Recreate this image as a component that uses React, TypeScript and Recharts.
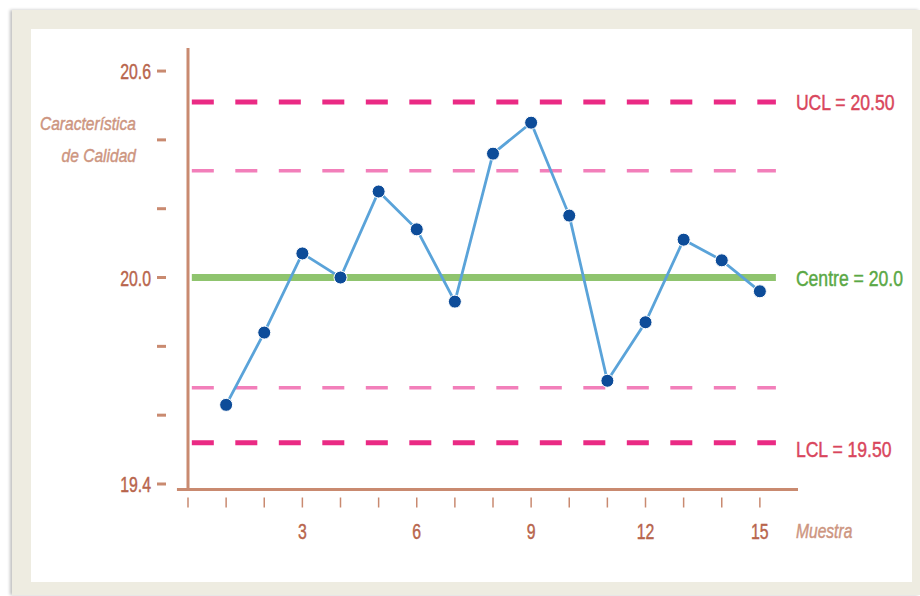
import { LineChart, Line, XAxis, YAxis, ReferenceLine } from "recharts";

// --- data ---
const SAMPLES = [1, 2, 3, 4, 5, 6, 7, 8, 9, 10, 11, 12, 13, 14, 15];
const VALUES = [19.63, 19.84, 20.07, 20.0, 20.25, 20.14, 19.93, 20.36, 20.45, 20.18, 19.7, 19.87, 20.11, 20.05, 19.96];

const Y_TICKS = [19.4, 19.6, 19.8, 20.0, 20.2, 20.4, 20.6];
const Y_TICK_LABELS: Record<string, string> = { "19.4": "19.4", "20": "20.0", "20.6": "20.6" };
const X_TICKS = [0, 1, 2, 3, 4, 5, 6, 7, 8, 9, 10, 11, 12, 13, 14, 15];
const X_TICK_LABELS = [3, 6, 9, 12, 15];

const UCL = 20.51;
const UPPER_WARN = 20.31;
const CENTRE = 20.0;
const LOWER_WARN = 19.68;
const LCL = 19.52;

const Y_DOMAIN: [number, number] = [19.384, 20.667];
const X_DOMAIN: [number, number] = [0, 16];
const LIMIT_X_START = 0.1;
const LIMIT_X_END = 15.42;

const chartData = SAMPLES.map((s, i) => ({ x: s, value: VALUES[i] }));

const FONT = "'Liberation Sans', Arial, sans-serif";
const BROWN = "#b8654c";
const LIGHT_BROWN = "#cd9580";
const AXIS = "#c98a70";

// the original uses a condensed, medium-weight face; squeeze a regular one and thicken it a touch
function NarrowText({ x, y, anchor = "start", squeeze = 0.75, size = 22, fill, italic = false, children }: any) {
  return (
    <g transform={`translate(${x},${y}) scale(${squeeze},1)`}>
      <text
        x={0}
        y={0}
        textAnchor={anchor}
        fill={fill}
        stroke={fill}
        strokeWidth={0.45}
        fontSize={size}
        fontStyle={italic ? "italic" : "normal"}
        fontFamily={FONT}
      >
        {children}
      </text>
    </g>
  );
}

function YTick({ x, y, payload }: any) {
  const label = Y_TICK_LABELS[String(payload.value)];
  return (
    <g>
      {label && (
        <NarrowText x={x - 37} y={y + 8} anchor="end" squeeze={0.72} size={22} fill={BROWN}>
          {label}
        </NarrowText>
      )}
      <line x1={x - 31} x2={x - 22} y1={y} y2={y} stroke={AXIS} strokeWidth={3} />
    </g>
  );
}

function XTick({ x, y, payload }: any) {
  const show = X_TICK_LABELS.includes(payload.value);
  return (
    <g>
      <line x1={x} x2={x} y1={y + 8} y2={y + 18} stroke={AXIS} strokeWidth={1.5} />
      {show && (
        <NarrowText x={x} y={y + 49} anchor="middle" squeeze={0.72} size={22} fill={BROWN}>
          {payload.value}
        </NarrowText>
      )}
    </g>
  );
}

function LimitLabel({ viewBox, text, color, shift = 0 }: any) {
  const vb = viewBox || { x: 0, y: 0, width: 0, height: 0 };
  return (
    <NarrowText x={vb.x + vb.width + 20} y={vb.y + vb.height / 2 + 8 + shift} squeeze={0.8} size={22} fill={color}>
      {text}
    </NarrowText>
  );
}

function limitSeg(v: number) {
  return [{ x: LIMIT_X_START, y: v }, { x: LIMIT_X_END, y: v }];
}

export default function App() {
  return (
    <div style={{ position: "absolute", left: 0, top: 0, width: 920, height: 596, background: "#fff" }}>
      {/* beige frame */}
      <div
        style={{
          position: "absolute",
          left: 12,
          top: 10,
          width: 908,
          height: 585,
          background: "#eeece1",
          boxShadow: "-2px 0 3px rgba(0,0,0,0.25)",
        }}
      />
      <div style={{ position: "absolute", left: 31, top: 29, width: 881, height: 553, background: "#fff" }} />

      <div style={{ position: "absolute", left: 0, top: 0 }}>
        <LineChart
          width={920}
          height={596}
          data={chartData}
          margin={{ top: 48, right: 122, bottom: 76.5, left: 128 }}
        >
          <XAxis
            type="number"
            dataKey="x"
            domain={X_DOMAIN}
            ticks={X_TICKS}
            interval={0}
            height={30}
            axisLine={false}
            tickLine={false}
            tickSize={0}
            tickMargin={0}
            tick={<XTick />}
          />
          <YAxis
            type="number"
            domain={Y_DOMAIN}
            ticks={Y_TICKS}
            interval={0}
            width={60}
            axisLine={{ stroke: AXIS, strokeWidth: 3 }}
            tickLine={false}
            tickSize={0}
            tickMargin={0}
            tick={<YTick />}
          />

          {/* x axis line, slightly past the y axis */}
          <ReferenceLine
            segment={[{ x: -0.29, y: Y_DOMAIN[0] }, { x: 16, y: Y_DOMAIN[0] }]}
            stroke={AXIS}
            strokeWidth={3}
            ifOverflow="visible"
          />

          <ReferenceLine
            segment={limitSeg(UPPER_WARN)}
            stroke="#f27fba"
            strokeWidth={3.5}
            strokeDasharray="22 21.5"
          />
          <ReferenceLine
            segment={limitSeg(LOWER_WARN)}
            stroke="#f27fba"
            strokeWidth={3.5}
            strokeDasharray="22 21.5"
          />
          <ReferenceLine
            segment={limitSeg(UCL)}
            stroke="#ea2a84"
            strokeWidth={5}
            strokeDasharray="22 21.5"
            label={<LimitLabel text="UCL = 20.50" color="#d9465c" />}
          />
          <ReferenceLine
            segment={limitSeg(LCL)}
            stroke="#ea2a84"
            strokeWidth={5}
            strokeDasharray="22 21.5"
            label={<LimitLabel text="LCL = 19.50" color="#d9465c" shift={6} />}
          />
          <ReferenceLine
            segment={limitSeg(CENTRE)}
            stroke="#8fc46e"
            strokeWidth={7}
            label={<LimitLabel text="Centre = 20.0" color="#5aa845" />}
          />

          <Line
            type="linear"
            dataKey="value"
            stroke="#5aa3d9"
            strokeWidth={2.8}
            dot={{ r: 6.5, fill: "#0d4c99", stroke: "#ffffff", strokeWidth: 1 }}
            isAnimationActive={false}
          />

          <NarrowText x={136} y={130} anchor="end" squeeze={0.82} size={19} italic fill={LIGHT_BROWN}>
            Característica
          </NarrowText>
          <NarrowText x={136} y={162} anchor="end" squeeze={0.82} size={19} italic fill={LIGHT_BROWN}>
            de Calidad
          </NarrowText>
          <NarrowText x={796} y={538} squeeze={0.78} size={20} italic fill={LIGHT_BROWN}>
            Muestra
          </NarrowText>
        </LineChart>
      </div>
    </div>
  );
}
